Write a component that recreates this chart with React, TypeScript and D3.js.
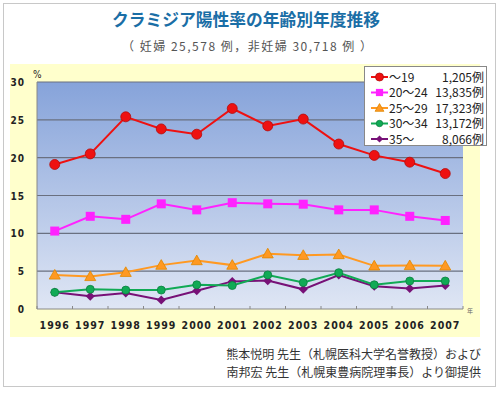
import React, { useEffect, useRef } from 'react';
import * as d3 from 'd3';

const years = ['1996', '1997', '1998', '1999', '2000', '2001', '2002', '2003', '2004', '2005', '2006', '2007'];
const under19 = [19.1, 20.5, 25.4, 23.8, 23.1, 26.5, 24.2, 25.1, 21.8, 20.3, 19.4, 17.9];
const age20to24 = [10.3, 12.25, 11.85, 13.9, 13.1, 14.05, 13.9, 13.85, 13.1, 13.1, 12.25, 11.7];
const age25to29 = [4.5, 4.3, 4.85, 5.8, 6.4, 5.8, 7.3, 7.1, 7.2, 5.7, 5.75, 5.7];
const age30to34 = [2.2, 2.6, 2.5, 2.5, 3.2, 3.1, 4.5, 3.5, 4.8, 3.2, 3.7, 3.7];
const over35 = [2.2, 1.7, 2.1, 1.2, 2.4, 3.65, 3.75, 2.6, 4.5, 3.0, 2.7, 3.1];
const seriesLabels = ['～19', '20～24', '25～29', '30～34', '35～'];
const seriesCounts = ['1,205例', '13,835例', '17,323例', '13,172例', '8,066例'];
const yTicks = [0, 5, 10, 15, 20, 25, 30];

const series = [
  { name: seriesLabels[0], count: seriesCounts[0], values: under19, color: '#ee1111', shape: 'circle', r: 5 },
  { name: seriesLabels[1], count: seriesCounts[1], values: age20to24, color: '#ff22ff', shape: 'square', r: 4.5 },
  { name: seriesLabels[2], count: seriesCounts[2], values: age25to29, color: '#ff9922', shape: 'triangle', r: 5.5 },
  { name: seriesLabels[3], count: seriesCounts[3], values: age30to34, color: '#11aa55', shape: 'circle', r: 4 },
  { name: seriesLabels[4], count: seriesCounts[4], values: over35, color: '#771177', shape: 'diamond', r: 4.5 },
];

const W = 498, H = 393;
const plot = { left: 37, right: 463, top: 82, bottom: 309 };
const numFont = '"DejaVu Sans Condensed", "Liberation Sans Narrow", sans-serif';
const jpFont = '"Noto Sans CJK JP", sans-serif';

const App: React.FC = () => {
  const svgRef = useRef<SVGSVGElement>(null);

  useEffect(() => {
    if (!svgRef.current) return;
    const svg = d3.select(svgRef.current);
    svg.selectAll('*').remove();

    const x = d3.scaleBand<string>().domain(years).range([plot.left, plot.right]);
    const y = d3.scaleLinear().domain([0, 30]).range([plot.bottom, plot.top]);

    const defs = svg.append('defs');
    const grad = defs.append('linearGradient')
      .attr('id', 'bg').attr('x1', 0).attr('y1', 0).attr('x2', 0).attr('y2', 1);
    grad.append('stop').attr('offset', '0%').attr('stop-color', '#86a3da');
    grad.append('stop').attr('offset', '100%').attr('stop-color', '#dfe6f4');

    // outer frame
    svg.append('rect').attr('x', 3.5).attr('y', 3.5).attr('width', 492).attr('height', 383)
      .attr('fill', '#fff').attr('stroke', '#c8c8c8');

    // title + subtitle
    svg.append('text').attr('x', 112).attr('y', 26)
      .attr('textLength', 268).attr('lengthAdjust', 'spacingAndGlyphs')
      .attr('font-family', jpFont).attr('font-weight', 'bold').attr('font-size', 17)
      .attr('fill', '#1a6ea6').text('クラミジア陽性率の年齢別年度推移');
    svg.append('text').attr('x', 122).attr('y', 51)
      .attr('textLength', 250).attr('lengthAdjust', 'spacing')
      .attr('font-family', jpFont).attr('font-size', 12)
      .attr('fill', '#555')
      .text('（ 妊婦 25,578 例，非妊婦 30,718 例 ）');

    // yellow panel
    svg.append('rect').attr('x', 10).attr('y', 64).attr('width', 470).attr('height', 273)
      .attr('fill', '#ffffcc');

    // plot area
    svg.append('rect').attr('x', plot.left).attr('y', plot.top)
      .attr('width', plot.right - plot.left).attr('height', plot.bottom - plot.top)
      .attr('fill', 'url(#bg)');

    // gridlines
    svg.append('g').selectAll('line').data(yTicks.filter(t => t > 0)).enter().append('line')
      .attr('x1', plot.left).attr('x2', plot.right)
      .attr('y1', d => y(d)).attr('y2', d => y(d))
      .attr('stroke', '#6a7080').attr('stroke-width', 1.2);

    // axes lines
    svg.append('line').attr('x1', plot.left).attr('x2', plot.left)
      .attr('y1', plot.top).attr('y2', plot.bottom).attr('stroke', '#888');
    svg.append('line').attr('x1', plot.left).attr('x2', plot.right)
      .attr('y1', plot.bottom).attr('y2', plot.bottom).attr('stroke', '#888');

    // x ticks (inward)
    const bounds = years.map(yr => x(yr)!).concat([plot.right]);
    svg.append('g').selectAll('line').data(bounds).enter().append('line')
      .attr('x1', d => d).attr('x2', d => d)
      .attr('y1', plot.bottom - 3).attr('y2', plot.bottom)
      .attr('stroke', '#888');

    // y tick labels
    svg.append('g').selectAll('text').data(yTicks).enter().append('text')
      .attr('x', 25).attr('y', d => y(d) + 4).attr('text-anchor', 'end')
      .attr('font-family', numFont).attr('font-weight', 'bold').attr('font-size', 10)
      .attr('letter-spacing', 1).attr('fill', '#222').text(d => d);
    svg.append('text').attr('x', 33).attr('y', 78)
      .attr('font-family', numFont).attr('font-size', 10).attr('fill', '#222').text('%');

    // x labels
    svg.append('g').selectAll('text').data(years).enter().append('text')
      .attr('x', d => x(d)! + x.bandwidth() / 2).attr('y', 329).attr('text-anchor', 'middle')
      .attr('font-family', numFont).attr('font-weight', 'bold').attr('font-size', 10.5)
      .attr('letter-spacing', 1).attr('fill', '#222').text(d => d);
    svg.append('text').attr('x', 467).attr('y', 313)
      .attr('font-family', jpFont).attr('font-size', 6).attr('fill', '#666').text('年');

    const cx = (i: number) => x(years[i])! + x.bandwidth() / 2;

    const drawMarker = (g: any, s: typeof series[0], px: number, py: number, scale = 1) => {
      const a = s.r * scale;
      if (s.shape === 'circle') {
        g.append('circle').attr('cx', px).attr('cy', py).attr('r', a)
          .attr('fill', s.color).attr('stroke', d3.color(s.color)!.darker(0.8).toString()).attr('stroke-width', 0.8);
      } else if (s.shape === 'square') {
        g.append('rect').attr('x', px - a).attr('y', py - a).attr('width', a * 2).attr('height', a * 2)
          .attr('fill', s.color);
      } else if (s.shape === 'triangle') {
        g.append('path').attr('d', `M${px},${py - a}L${px + a},${py + a * 0.75}L${px - a},${py + a * 0.75}Z`)
          .attr('fill', s.color).attr('stroke', '#e08800').attr('stroke-width', 0.8);
      } else {
        g.append('path').attr('d', `M${px},${py - a}L${px + a},${py}L${px},${py + a}L${px - a},${py}Z`)
          .attr('fill', s.color);
      }
    };

    const line = d3.line<number>().x((_d, i) => cx(i)).y(d => y(d));

    series.slice().reverse().forEach(s => {
      const g = svg.append('g');
      g.append('path').attr('d', line(s.values)!).attr('fill', 'none')
        .attr('stroke', s.color).attr('stroke-width', 2);
      s.values.forEach((v, i) => drawMarker(g, s, cx(i), y(v)));
    });

    // legend
    const lg = svg.append('g');
    lg.append('rect').attr('x', 364.5).attr('y', 66.5).attr('width', 122).attr('height', 79)
      .attr('fill', '#fff').attr('stroke', '#888');
    series.forEach((s, i) => {
      const ly = 77 + i * 15.5;
      lg.append('line').attr('x1', 371).attr('x2', 388).attr('y1', ly).attr('y2', ly)
        .attr('stroke', s.color).attr('stroke-width', 2);
      drawMarker(lg, s, 379.5, ly, 0.8);
      lg.append('text').attr('x', 389).attr('y', ly + 4.5)
        .attr('font-family', jpFont).attr('font-size', 12).attr('fill', '#222').text(s.name);
      lg.append('text').attr('x', 484).attr('y', ly + 4.5).attr('text-anchor', 'end')
        .attr('font-family', jpFont).attr('font-size', 12).attr('fill', '#222').text(s.count);
    });

    // footer
    svg.append('text').attr('x', 481).attr('y', 359).attr('text-anchor', 'end')
      .attr('font-family', jpFont).attr('font-size', 12).attr('fill', '#333')
      .text('熊本悦明 先生（札幌医科大学名誉教授）および');
    svg.append('text').attr('x', 481).attr('y', 377).attr('text-anchor', 'end')
      .attr('font-family', jpFont).attr('font-size', 12).attr('fill', '#333')
      .text('南邦宏 先生（札幌東豊病院理事長）より御提供');
  }, []);

  return (
    <svg ref={svgRef} width={W} height={H}
      style={{ position: 'absolute', left: 0, top: 0, display: 'block' }} />
  );
};

export default App;
